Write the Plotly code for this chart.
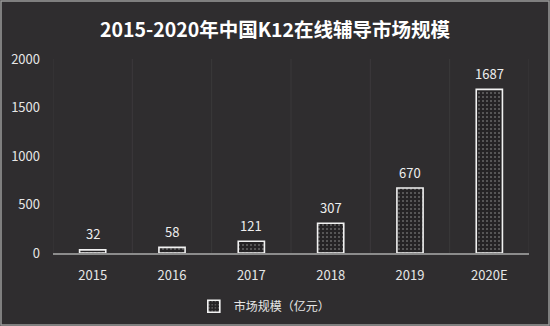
import plotly.graph_objects as go

categories = ["2015", "2016", "2017", "2018", "2019", "2020E"]
values = [32, 58, 121, 307, 670, 1687]
series_name = "市场规模（亿元）"
title_text = "2015-2020年中国K12在线辅导市场规模"

BG = "#2f2d2f"
FONT = "Noto Sans CJK SC"

fig = go.Figure()
fig.add_trace(go.Bar(
    x=categories, y=values, name=series_name,
    width=0.33,
    marker=dict(color=BG, line=dict(color="#f2f2f2", width=1.6),
                pattern=dict(shape=".", fgcolor="#a8a8a8", bgcolor="#252325", size=4, solidity=0.2)),
    showlegend=True,
))

for i, v in enumerate(values):
    fig.add_annotation(x=i, y=v, xref="x", yref="y", text=str(v), showarrow=False,
                       yanchor="middle", yshift=16,
                       font=dict(color="#eeeeee", size=13, family=FONT))

L, R, T, B = 53, 21, 59, 73
W, H = 550, 326
pw, ph = W - L - R, H - T - B

shapes = []
for i in range(len(categories) + 1):
    shapes.append(dict(type="line", xref="x", yref="paper", x0=i - 0.5, x1=i - 0.5, y0=0, y1=1,
                       line=dict(color="#3b393b", width=1), layer="below"))
shapes.append(dict(type="rect", xref="paper", yref="paper",
                   x0=(1 - L) / pw, x1=(W - 1 - L) / pw,
                   y0=(T + ph - (H - 1)) / ph, y1=(T + ph - 1) / ph,
                   line=dict(color="#9a9a9a", width=1.5)))

fig.update_layout(
    width=W, height=H,
    margin=dict(l=L, r=R, t=T, b=B, autoexpand=False),
    paper_bgcolor=BG, plot_bgcolor=BG,
    font=dict(family=FONT, color="#e6e6e6", size=13),
    title=dict(text="<b>" + title_text + "</b>", x=0.5, xanchor="center", y=1 - 30 / H, yanchor="middle",
               font=dict(size=19.5, color="#ffffff", family=FONT)),
    xaxis=dict(type="category", range=[-0.5, 5.5], showgrid=False, showline=True, linecolor="#8c8c8c",
               linewidth=1.5, ticks="", ticklabelstandoff=10, tickfont=dict(size=13, color="#e6e6e6"),
               fixedrange=True, automargin=False),
    yaxis=dict(range=[0, 2000], tickvals=[0, 500, 1000, 1500, 2000], showgrid=False, zeroline=False,
               showline=False, ticks="", ticklen=0, ticklabelstandoff=12,
               tickfont=dict(size=13, color="#e6e6e6"), fixedrange=True, automargin=False),
    legend=dict(orientation="h", x=0.445, xanchor="center", y=-0.2, yanchor="top",
                font=dict(size=12, color="#e6e6e6"), bgcolor="rgba(0,0,0,0)", itemwidth=30),
    shapes=shapes,
)

fig.write_html("out.html")
